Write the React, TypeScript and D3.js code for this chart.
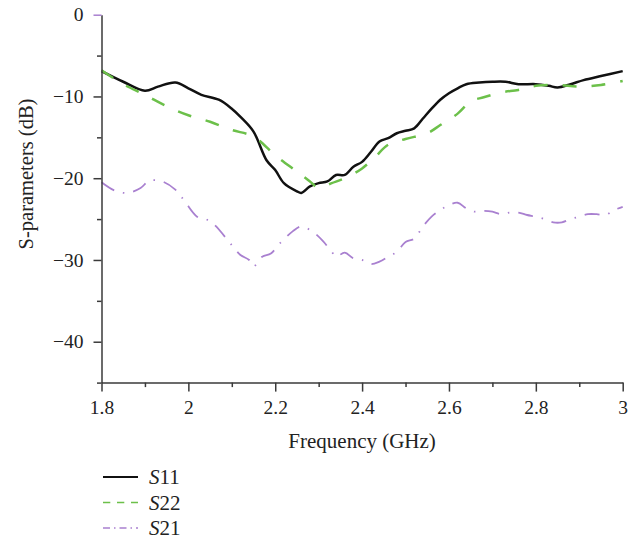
import React, { useEffect, useRef } from "react";
import * as d3 from "d3";

// values (GHz, dB)
const s11Freq = [1.8, 1.85, 1.9, 1.93, 1.97, 2.0, 2.03, 2.07, 2.1, 2.12, 2.15, 2.18, 2.2, 2.22, 2.25, 2.26, 2.28, 2.3, 2.32, 2.34, 2.36, 2.38, 2.4, 2.42, 2.44, 2.46, 2.48, 2.5, 2.52, 2.54, 2.56, 2.58, 2.6, 2.62, 2.64, 2.67, 2.7, 2.73, 2.76, 2.8, 2.83, 2.85, 2.88, 2.91, 2.95, 3.0];
const s11Values = [-6.9, -8.2, -9.3, -8.8, -8.3, -9.0, -9.8, -10.4, -11.5, -12.5, -14.3, -17.8, -19.0, -20.6, -21.6, -21.8, -21.0, -20.6, -20.4, -19.6, -19.6, -18.6, -18.0, -16.8, -15.5, -15.1, -14.5, -14.2, -13.9, -12.7, -11.5, -10.4, -9.6, -9.0, -8.5, -8.3, -8.2, -8.2, -8.5, -8.5, -8.7, -8.9, -8.5, -8.0, -7.5, -6.9];

const s22Freq = [1.8, 1.85, 1.9, 1.95, 2.0, 2.05, 2.1, 2.15, 2.2, 2.25, 2.28, 2.3, 2.33, 2.36, 2.4, 2.43, 2.46, 2.5, 2.55, 2.58, 2.62, 2.65, 2.68, 2.72, 2.76, 2.8, 2.85, 2.9, 2.95, 3.0];
const s22Values = [-6.8, -8.5, -9.8, -11.2, -12.3, -13.1, -14.1, -14.9, -17.2, -19.2, -20.4, -21.2, -20.6, -20.0, -18.8, -17.4, -15.9, -15.2, -14.5, -13.5, -12.1, -10.6, -10.1, -9.5, -9.2, -8.7, -8.6, -8.8, -8.6, -8.1];

const s21Freq = [1.8, 1.83, 1.86, 1.89, 1.91, 1.94, 1.97, 1.99, 2.02, 2.04, 2.06, 2.1, 2.12, 2.14, 2.15, 2.17, 2.19, 2.21, 2.24, 2.26, 2.29, 2.31, 2.33, 2.34, 2.36, 2.38, 2.4, 2.42, 2.44, 2.46, 2.48, 2.5, 2.52, 2.54, 2.56, 2.58, 2.6, 2.62, 2.64, 2.66, 2.68, 2.7, 2.72, 2.74, 2.76, 2.78, 2.8, 2.82, 2.84, 2.86, 2.88, 2.9, 2.92, 2.94, 2.96, 2.98, 3.0];
const s21Values = [-20.5, -21.5, -21.8, -21.2, -20.3, -20.4, -21.4, -22.7, -24.7, -25.0, -25.7, -28.2, -29.4, -30.0, -30.8, -29.6, -29.2, -28.0, -26.5, -25.9, -26.7, -27.7, -29.0, -29.6, -29.1, -29.8, -30.0, -30.5, -30.2, -29.6, -29.0, -27.8, -27.4, -25.9, -24.7, -23.9, -23.3, -23.0, -23.7, -24.1, -24.0, -24.1, -24.4, -24.2, -24.2, -24.5, -24.7, -25.0, -25.4, -25.4, -25.0, -24.7, -24.4, -24.4, -24.5, -23.9, -23.5];

const xMajorTicks = [1.8, 2.0, 2.2, 2.4, 2.6, 2.8, 3.0];
const xMinorTicks = [1.9, 2.1, 2.3, 2.5, 2.7, 2.9];
const yMajorTicks = [0, -10, -20, -30, -40];
const yMinorTicks = [-5, -15, -25, -35, -45];

const seriesNames = ["S11", "S22", "S21"];
const seriesColors = ["#111111", "#6cc04a", "#a980d0"];

const App = () => {
  const svgRef = useRef<SVGSVGElement>(null);

  useEffect(() => {
    const width = 643;
    const height = 540;
    const margin = { left: 101.5, right: 20.3, top: 14.7, bottom: 157.4 };
    const font = "'Liberation Serif', 'DejaVu Serif', serif";
    const axisColor = "#3a3a3a";

    const svg = d3.select(svgRef.current);
    svg.selectAll("*").remove();
    svg.attr("width", width).attr("height", height);

    const x = d3
      .scaleLinear()
      .domain([1.8, 3.0])
      .range([margin.left, width - margin.right]);
    const y = d3
      .scaleLinear()
      .domain([-45, 0])
      .range([height - margin.bottom, margin.top]);

    const series = [
      { f: s11Freq, v: s11Values, dash: null, w: 2.5 },
      { f: s22Freq, v: s22Values, dash: "14 15", w: 2.5 },
      { f: s21Freq, v: s21Values, dash: "15 9 1.5 9", w: 1.8 },
    ];

    const line = d3
      .line<[number, number]>()
      .x((d) => x(d[0]))
      .y((d) => y(d[1]))
      .curve(d3.curveCatmullRom.alpha(0.5));

    series.forEach((s, i) => {
      const pts = s.f.map((f, j) => [f, s.v[j]] as [number, number]);
      svg
        .append("path")
        .datum(pts)
        .attr("fill", "none")
        .attr("stroke", seriesColors[i])
        .attr("stroke-width", s.w)
        .attr("stroke-linejoin", "round")
        .attr("stroke-dasharray", s.dash)
        .attr("d", line);
    });

    // x axis
    const xAxis = svg
      .append("g")
      .attr("transform", `translate(0,${y(-45)})`)
      .call(
        d3
          .axisBottom(x)
          .tickValues(xMajorTicks)
          .tickSize(9)
          .tickSizeOuter(0)
          .tickPadding(8.5)
          .tickFormat((d) => String(+(+d).toFixed(1)))
      );
    xAxis.select(".domain").attr("stroke", axisColor).attr("stroke-width", 1.5);
    xAxis.selectAll("line").attr("stroke", axisColor).attr("stroke-width", 1.5);
    xAxis
      .selectAll("text")
      .attr("fill", "#222")
      .style("font-size", "19.5px")
      .style("font-family", font);

    svg
      .append("g")
      .attr("transform", `translate(0,${y(-45)})`)
      .call(d3.axisBottom(x).tickValues(xMinorTicks).tickSize(4.5).tickSizeOuter(0).tickFormat(() => ""))
      .call((g) => g.select(".domain").remove())
      .selectAll("line")
      .attr("stroke", axisColor)
      .attr("stroke-width", 1.5);

    // y axis
    const yAxis = svg
      .append("g")
      .attr("transform", `translate(${x(1.8)},0)`)
      .call(
        d3
          .axisLeft(y)
          .tickValues(yMajorTicks)
          .tickSize(8)
          .tickSizeOuter(0)
          .tickPadding(10)
          .tickFormat((d) => (+d < 0 ? "\u2212" + Math.abs(+d) : String(d)))
      );
    yAxis.select(".domain").attr("stroke", axisColor).attr("stroke-width", 1.5);
    yAxis
      .selectAll("line")
      .attr("stroke", (d) => (d === 0 ? seriesColors[2] : axisColor))
      .attr("stroke-width", 1.5);
    yAxis
      .selectAll("text")
      .attr("fill", "#222")
      .style("font-size", "19.5px")
      .style("font-family", font);

    svg
      .append("g")
      .attr("transform", `translate(${x(1.8)},0)`)
      .call(d3.axisLeft(y).tickValues(yMinorTicks).tickSize(4.5).tickSizeOuter(0).tickFormat(() => ""))
      .call((g) => g.select(".domain").remove())
      .selectAll("line")
      .attr("stroke", axisColor)
      .attr("stroke-width", 1.5);

    // axis titles
    svg
      .append("text")
      .attr("x", (x(1.8) + x(3.0)) / 2)
      .attr("y", 448)
      .attr("text-anchor", "middle")
      .attr("fill", "#222")
      .style("font-size", "21px")
      .style("font-family", font)
      .text("Frequency (GHz)");

    svg
      .append("text")
      .attr("transform", `translate(33,174) rotate(-90)`)
      .attr("text-anchor", "middle")
      .attr("fill", "#222")
      .style("font-size", "20.5px")
      .style("font-family", font)
      .text("S-parameters (dB)");

    // legend
    const legend = svg.append("g").attr("transform", "translate(103,477)");
    seriesNames.forEach((name, i) => {
      const row = legend.append("g").attr("transform", `translate(0,${i * 25.5})`);
      row
        .append("line")
        .attr("x1", 0)
        .attr("x2", 35)
        .attr("stroke", seriesColors[i])
        .attr("stroke-width", i === 0 ? 1.8 : 1.4)
        .attr("stroke-dasharray", i === 0 ? null : i === 1 ? "7.3 6.7" : "7 4 1.5 4");
      const t = row
        .append("text")
        .attr("x", 46)
        .attr("y", 7)
        .attr("fill", "#222")
        .style("font-size", "21px")
        .style("font-family", font);
      t.append("tspan").style("font-style", "italic").text(name[0]);
      t.append("tspan").text(name.slice(1));
    });
  }, []);

  return (
    <div style={{ position: "absolute", left: 0, top: 0 }}>
      <svg ref={svgRef} style={{ display: "block", background: "white" }}></svg>
    </div>
  );
};

export default App;
